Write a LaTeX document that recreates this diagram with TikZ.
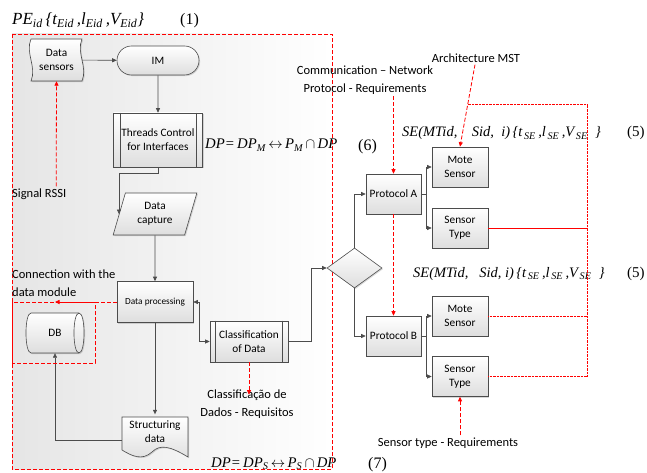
\documentclass[tikz,border=0pt]{standalone}
\usepackage{fontspec}
\setmainfont{Carlito}
\newfontfamily\eqfont{Liberation Serif}
\usetikzlibrary{shapes.geometric,shapes.misc,arrows.meta,shadows,calc}

\tikzset{
  shape look/.style={draw=black!70, line width=0.6pt, top color=white, bottom color=black!13,
    drop shadow={shadow xshift=1.1pt, shadow yshift=-1.1pt, opacity=0.3}},
  boxtext/.style={font=\fontsize{11.3}{14}\selectfont, align=center, inner sep=1pt},
  procbox/.style={shape look, boxtext, rectangle, minimum width=#1, minimum height=40pt},
  procbox/.default=56pt,
  flow/.style={draw=black!70, line width=0.6pt, -{Triangle[length=4.5pt,width=4pt]}},
  twoway/.style={draw=black!70, line width=0.6pt, {Triangle[length=4.5pt,width=4pt]}-{Triangle[length=4.5pt,width=4pt]}},
  reddash/.style={draw=red, line width=0.8pt, dash pattern=on 4pt off 2pt},
  redarrow/.style={reddash, -{Triangle[length=4.5pt,width=4pt]}},
  reddot/.style={draw=red, line width=0.8pt, dash pattern=on 1pt off 0.4pt},
  redline/.style={draw=red, line width=1pt},
  lab/.style={font=\fontsize{12.5}{17.5}\selectfont, align=center, inner sep=0pt},
  eqtitle/.style={font=\eqfont\itshape\fontsize{17}{19}\selectfont, inner sep=0pt, anchor=base west},
  eqn/.style={font=\eqfont\itshape\fontsize{14.7}{18}\selectfont, inner sep=0pt, anchor=base west},
  eqnum/.style={font=\eqfont\fontsize{16}{19}\selectfont, inner sep=0pt, anchor=base west},
  eqse/.style={font=\eqfont\itshape\fontsize{14.5}{17}\selectfont, inner sep=0pt, anchor=base west},
  eqsenum/.style={font=\eqfont\fontsize{15}{17}\selectfont, inner sep=0pt, anchor=base west},
}

\begin{document}
\begin{tikzpicture}[x=1pt,y=-1pt]
\useasboundingbox (0,0) rectangle (647,473);

% shaded working area of the system
\draw[reddash, left color=black!10, right color=white] (12,34) rectangle (332,469);

% formulas
\node[eqtitle] (pe) at (12,25) {PE\textsubscript{id}\,\{t\textsubscript{Eid}\,,l\textsubscript{Eid}\,,V\textsubscript{Eid}\}};
\node[eqnum] (n1) at (180,25) {(1)};
\node[eqn] (dpm) at (205,149) {DP=\,DP\textsubscript{M}\,$\leftrightarrow$\,P\textsubscript{M}\,$\cap$\,DP};
\node[eqnum] (n6) at (358,150) {(6)};
\node[eqn] (dps) at (211,467) {DP=\,DP\textsubscript{S}\,$\leftrightarrow$\,P\textsubscript{S}\,$\cap$\,DP};
\node[eqnum] (n7) at (368,468) {(7)};
\node[eqse] (sea) at (402,137) {SE(MTid,\ \ \ \ Sid,\ \ i)\,\{t\textsubscript{\,SE}\,,l\textsubscript{\,SE}\,,V\textsubscript{\,SE}\ \ \}};
\node[eqsenum] (n5a) at (627,137) {(5)};
\node[eqse] (seb) at (413,277) {SE(MTid,\ \ \ Sid,\ i)\,\{t\textsubscript{\,SE}\,,l\textsubscript{\,SE}\,,V\textsubscript{\,SE}\ \ \}};
\node[eqsenum] (n5b) at (627,277) {(5)};

% data sensors (tape shape)
\draw[shape look] (31,39) -- (82,39)
  .. controls (76,53) and (88,67) .. (82,81) -- (31,81)
  .. controls (37,67) and (25,53) .. cycle;
\node[boxtext, minimum width=51pt, minimum height=42pt] (ds) at (56.5,60) {Data\\sensors};

% IM terminal
\node[shape look, boxtext, rounded rectangle, minimum width=84pt, minimum height=29pt] (im) at (158,60.5) {IM};

% threads control (predefined process)
\node[shape look, boxtext, rectangle, minimum width=89pt, minimum height=54pt] (tc) at (158,140) {Threads Control\\for Interfaces};
\draw[draw=black!70, line width=0.6pt] ([xshift=7pt]tc.north west) -- ([xshift=7pt]tc.south west)
  ([xshift=-7pt]tc.north east) -- ([xshift=-7pt]tc.south east);

% data capture (input)
\node[shape look, boxtext, trapezium, trapezium left angle=73, trapezium right angle=107,
  trapezium stretches=true, minimum width=84pt, minimum height=42pt] (cap) at (155,214) {Data\\capture};

% data processing
\node[shape look, boxtext, rectangle, minimum width=76pt, minimum height=41pt,
  font=\fontsize{9.3}{11}\selectfont] (dp) at (155,302) {Data processing};

% database (drum lying on its side)
\draw[shape look] (31,313) -- (79,313)
  .. controls (85.7,313) and (85.7,353) .. (79,353) -- (31,353)
  .. controls (24.3,353) and (24.3,313) .. cycle;
\draw[draw=black!70, line width=0.6pt] (79,313) .. controls (72.3,313) and (72.3,353) .. (79,353);
\node[boxtext, minimum width=58pt, minimum height=40pt] (db) at (55,333) {DB};

% structuring data (document)
\draw[shape look] (122,417) -- (188,417) -- (188,457)
  .. controls (170,446) and (160,444) .. (152,452)
  .. controls (142,461) and (132,456) .. (122,450) -- cycle;
\node[boxtext, minimum width=66pt, minimum height=35pt] (sd) at (155,432) {Structuring\\data};

% classification of data (predefined process)
\node[shape look, boxtext, rectangle, minimum width=78pt, minimum height=41pt] (cls) at (249,341.5) {Classification\\of Data};
\draw[draw=black!70, line width=0.6pt] ([xshift=6pt]cls.north west) -- ([xshift=6pt]cls.south west)
  ([xshift=-6pt]cls.north east) -- ([xshift=-6pt]cls.south east);

% decision
\node[shape look, diamond, aspect=1.375, minimum width=55pt, minimum height=40pt, inner sep=0pt] (dia) at (354.5,268) {};

% protocols and their components
\node[procbox=55pt] (pa) at (393.5,194) {Protocol A};
\node[procbox=55pt] (pb) at (393.5,336) {Protocol B};
\node[procbox] (msa) at (460,167) {Mote\\Sensor};
\node[procbox] (sta) at (460,228) {Sensor\\Type};
\node[procbox] (msb) at (460,316) {Mote\\Sensor};
\node[procbox] (stb) at (460,376.5) {Sensor\\Type};

% annotations
\node[lab, anchor=west] (rssi) at (12,194) {Signal RSSI};
\node[lab, anchor=west, align=left] (conn) at (12,283) {Connection with the\\data module};
\node[lab] (clab) at (247,404) {Classificação de\\Dados - Requisitos};
\node[lab] (comm) at (365,80) {Communication -- Network\\Protocol - Requirements};
\node[lab] (arch) at (476,58) {Architecture MST};
\node[lab] (streq) at (448,443) {Sensor type - Requirements};

% main flow
\draw[flow] (ds) -- (im);
\draw[flow] (im) -- (tc);
\draw[flow] (tc.south) -- ++(0,6) -| (cap.west);
\draw[flow] (cap.south) -- (dp.north);
\draw[flow] (dp.south) -- (sd.north);
\draw[flow] ($(sd.west)+(0,8)$) -| (db.south);
\draw[twoway] (dp.east) -- ++(6,0) |- (cls.west);
\draw[flow] (cls.east) -- ++(23,0) |- (dia.west);
\draw[flow] (dia.north) |- (pa.west);
\draw[flow] (dia.south) |- (pb.west);
\draw[flow] (pa.east) -- ++(5,0) |- (msa.west);
\draw[flow] (pa.east) -- ++(5,0) |- (sta.west);
\draw[flow] (pb.east) -- ++(5,0) |- (msb.west);
\draw[flow] (pb.east) -- ++(5,0) |- (stb.west);

% requirement links
\draw[redarrow] ($(rssi.north)+(17,-2)$) -- (ds.south);
\draw[reddash] (12,302) rectangle (95,363);
\coordinate (connend) at (55,302);
\draw[redarrow] (dp.west) -- (connend);
\draw[redarrow] (cls.south) -- ($(cls.south |- clab.north)+(0,5)$);
\draw[redarrow] ($(pa.north |- comm.south)+(0,2)$) -- (pa.north);
\draw[redarrow] (pa.south) -- (pb.north);
\draw[redarrow] ($(arch.south)+(-1,2)$) -- coordinate[pos=0.49] (archmid) (msa.north);
\draw[redarrow] ($(stb.south |- streq.north)+(0,-2)$) -- (stb.south);

% sensor bus
\coordinate (bus) at (587,0);
\draw[reddot] (archmid) -- (archmid -| bus) -- (stb.east -| bus) -- (stb.east);
\draw[reddot] (msb.east) -- (msb.east -| bus);
\draw[redline] (sta.east) -- (sta.east -| bus);
\end{tikzpicture}
\end{document}
